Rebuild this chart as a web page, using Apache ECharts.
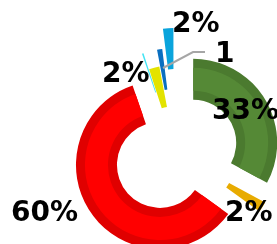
<!DOCTYPE html>
<html>
<head>
<meta charset="utf-8">
<script src="https://cdn.jsdelivr.net/npm/echarts@6/dist/echarts.min.js"></script>
<style>html,body{margin:0;padding:0;background:#fff;}#c{width:277px;height:244px;}</style>
</head>
<body>
<div id="c"></div>
<script>
// ---- data ----
const names = ['A', 'B', 'C', 'D', 'E', 'F', 'G'];
const values = [33, 2, 60, 0.3, 2, 1, 2];
const labelKinds = ['pct', 'pct', 'pct', 'none', 'pct', 'value', 'pct'];

// ---- styles ----
const colors = ['#558936', '#e8ab00', '#ff0000', '#44e4f4', '#e3e300', '#0a6fc0', '#0aa4dc'];
const darkColors = ['#4b7a2f', null, '#e00000', null, null, null, null];
const explode = [20, 18, 20, 21, 4, 21, 41];
const labelPos = [[212, 112], [225, 214], [11, 214], null, [102, 75], [172, 25], [215, 55]];
const leaderLine = [[163, 68], [193, 52], [205, 52]];
const CENTER = [176, 153];

const chart = echarts.init(document.getElementById('c'), null, {renderer: 'canvas'});

function makeSeries(idx, radius, color) {
  return {
    type: 'pie',
    center: CENTER,
    radius: radius,
    startAngle: 90,
    clockwise: true,
    selectedMode: 'multiple',
    selectedOffset: explode[idx],
    avoidLabelOverlap: false,
    silent: true,
    animation: false,
    emphasis: {disabled: true},
    label: {show: false},
    labelLine: {show: false},
    data: values.map((v, i) => ({
      name: names[i],
      value: v,
      selected: i === idx,
      itemStyle: {color: i === idx ? color : 'rgba(0,0,0,0)', borderWidth: 0}
    }))
  };
}

const series = [];
values.forEach((v, i) => {
  if (darkColors[i]) {
    series.push(makeSeries(i, [43, 84], darkColors[i]));
    series.push(makeSeries(i, [52, 75], colors[i]));
  } else {
    series.push(makeSeries(i, [43, 84], colors[i]));
  }
});

const total = values.reduce((a, b) => a + b, 0);
const graphics = [];
// label positions map: index 5 (value label "1") and 6 (blue 2%)
const posFor = [labelPos[0], labelPos[1], labelPos[2], null, labelPos[4], labelPos[6], labelPos[5]];
values.forEach((v, i) => {
  if (labelKinds[i] === 'none') return;
  const txt = labelKinds[i] === 'value' ? String(v) : Math.round(v / total * 100) + '%';
  graphics.push({
    type: 'text',
    x: posFor[i][0],
    y: posFor[i][1],
    z: 100,
    silent: true,
    style: {
      text: txt,
      fill: '#000',
      font: 'bold 28px "DejaVu Sans"',
      align: 'left',
      verticalAlign: 'middle'
    }
  });
});
graphics.push({
  type: 'polyline',
  z: 99,
  silent: true,
  shape: {points: leaderLine},
  style: {stroke: '#a6a6a6', lineWidth: 2, fill: null}
});

chart.setOption({
  backgroundColor: '#ffffff',
  animation: false,
  series: series,
  graphic: graphics
});
</script>
</body>
</html>
